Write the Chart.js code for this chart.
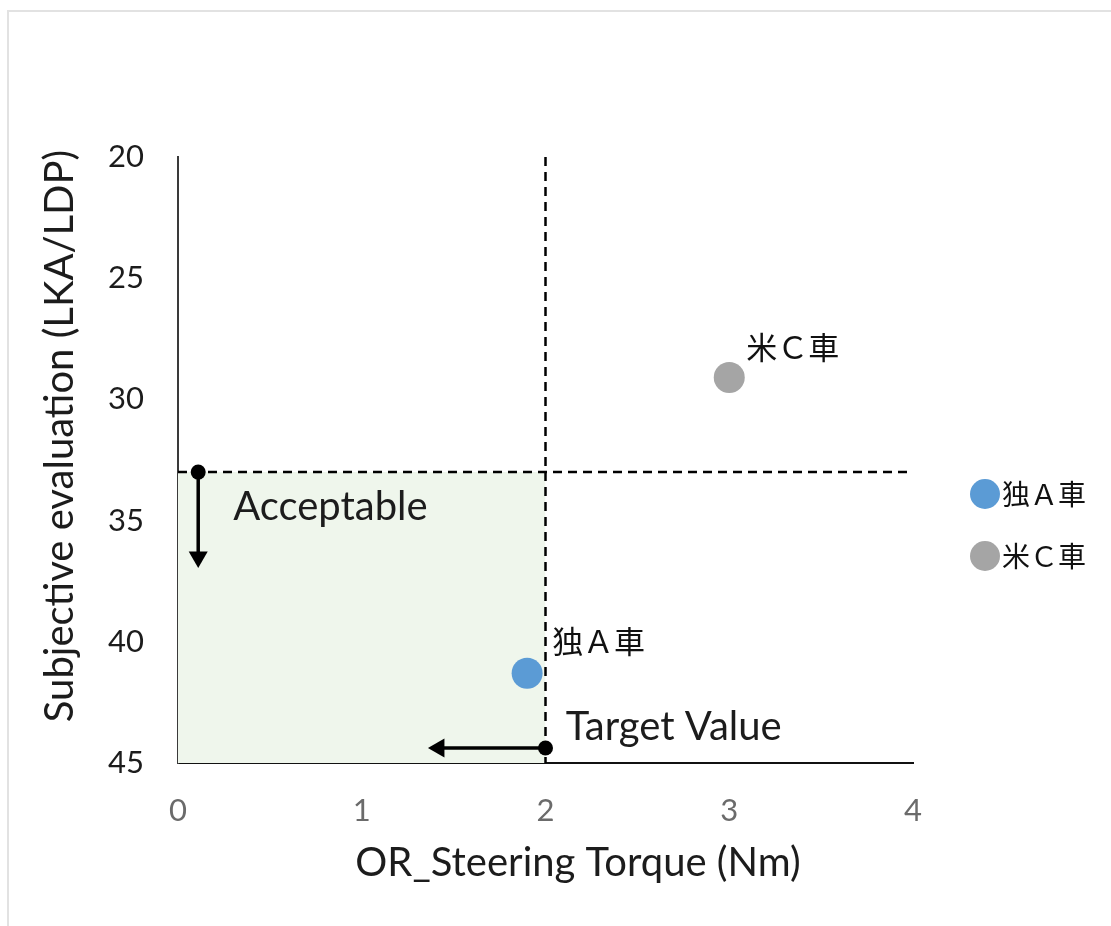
<!DOCTYPE html>
<html>
<head>
<meta charset="utf-8">
<title>OR Steering Torque vs Subjective evaluation</title>
<script src="https://cdn.jsdelivr.net/npm/chart.js@4.4.1/dist/chart.umd.min.js"></script>
<style>
  html, body { margin: 0; padding: 0; background: #fff; width: 1111px; height: 926px; overflow: hidden; }
  #frame { position: absolute; left: 7px; top: 10px; right: -4px; bottom: -4px;
           border-left: 2px solid #e2e2e2; border-top: 2px solid #e2e2e2; }
  #chart { position: absolute; left: 0; top: 0; }
</style>
</head>
<body>
<div id="frame"></div>
<canvas id="chart" width="1111" height="926"></canvas>
<script>
// Vehicles and their measured results
const vehicles = ['独Ａ車', '米Ｃ車'];
const steeringTorque = [1.9, 3.0];       // Nm
const subjectiveScore = [41.3, 29.1];

// Target thresholds
const targetTorque = 2;
const acceptableScore = 33;

// Axis ranges and tick steps
const xTicks = [0, 1, 2, 3, 4];
const yTicks = [20, 25, 30, 35, 40, 45];

// Axis titles
const xTitle = 'OR_Steering Torque (Nm)';
const yTitle = 'Subjective evaluation (LKA/LDP)';

// Arrows: start (dot) and end (arrowhead)
const acceptArrowX = [0.11, 0.11];
const acceptArrowY = [33, 36.5];
const targetArrowX = [2.0, 1.42];
const targetArrowY = [44.38, 44.38];

// Free text notes
const notes = ['Acceptable', 'Target Value'];
const noteX = [0.30, 2.11];
const noteY = [34.97, 44.05];

const pts = (xs, ys) => xs.map((x, i) => ({ x, y: ys[i] }));

const xMin = xTicks[0], xMax = xTicks[xTicks.length - 1];
const yMin = yTicks[0], yMax = yTicks[yTicks.length - 1];

const COLORS = ['#5B9BD5', '#A5A5A5'];
const CJK = '"Noto Sans CJK JP", "Noto Sans CJK SC", sans-serif';
const LATIN = 'Lato, "Open Sans", sans-serif';
const TEXT = '#1c1c1c';

// Per-vehicle label offsets (px) from the marker centre
const LABEL_OFFSETS = [{ dx: 25, dy: -32 }, { dx: 17, dy: -30 }];

const vehicleSets = vehicles.map((name, i) => ({
  type: 'scatter',
  label: name,
  data: [{ x: steeringTorque[i], y: subjectiveScore[i] }],
  backgroundColor: COLORS[i],
  borderColor: COLORS[i],
  pointRadius: 15.5,
  pointHoverRadius: 15.5,
  borderWidth: 0,
  order: 1,
  inLegend: true,
  labelOffset: LABEL_OFFSETS[i]
}));

const arrowSet = (xs, ys, rotation) => ({
  type: 'line',
  label: '',
  data: pts(xs, ys),
  borderColor: '#000',
  backgroundColor: '#000',
  borderWidth: 3.5,
  pointStyle: ['circle', 'triangle'],
  pointRadius: [7.5, 11],
  pointRotation: [0, rotation],
  pointBorderWidth: 0,
  pointBackgroundColor: '#000',
  fill: false,
  order: 3
});

const datasets = [
  // acceptable zone: torque below target, score at or beyond the threshold
  {
    type: 'line',
    label: '',
    data: pts([xMin, targetTorque], [acceptableScore, acceptableScore]),
    borderWidth: 0,
    borderColor: 'rgba(0,0,0,0)',
    pointRadius: 0,
    backgroundColor: '#EFF6EC',
    fill: { value: yMax },
    order: 10
  },
  // threshold lines
  {
    type: 'line',
    label: '',
    data: pts([targetTorque, targetTorque], [yMin, yMax]),
    borderColor: '#000',
    borderWidth: 2.5,
    borderDash: [9, 6],
    pointRadius: 0,
    fill: false,
    order: 5
  },
  {
    type: 'line',
    label: '',
    data: pts([xMin, xMax], [acceptableScore, acceptableScore]),
    borderColor: '#000',
    borderWidth: 2.5,
    borderDash: [9, 6],
    pointRadius: 0,
    fill: false,
    order: 5
  },
  arrowSet(acceptArrowX, acceptArrowY, 180),
  arrowSet(targetArrowX, targetArrowY, 270),
  ...vehicleSets
];

// Labels next to the vehicle markers and the two free notes
const textPlugin = {
  id: 'textNotes',
  afterDatasetsDraw(chart) {
    const { ctx, scales: { x, y } } = chart;
    ctx.save();
    ctx.fillStyle = '#111';
    ctx.textAlign = 'left';
    ctx.textBaseline = 'middle';
    ctx.font = '31px ' + CJK;
    chart.data.datasets.forEach((ds, i) => {
      if (!ds.inLegend) return;
      const el = chart.getDatasetMeta(i).data[0];
      ctx.fillText(ds.label, el.x + ds.labelOffset.dx, el.y + ds.labelOffset.dy);
    });
    ctx.font = '40px ' + LATIN;
    ctx.fillStyle = TEXT;
    ctx.textBaseline = 'alphabetic';
    notes.forEach((t, i) => {
      ctx.fillText(t, x.getPixelForValue(noteX[i]), y.getPixelForValue(noteY[i]));
    });
    ctx.restore();
  }
};

// Axis titles, placed relative to the plot area
const axisTitles = {
  id: 'axisTitles',
  afterDraw(chart) {
    const { ctx, chartArea } = chart;
    ctx.save();
    ctx.font = '40px ' + LATIN;
    ctx.fillStyle = TEXT;
    ctx.textAlign = 'center';
    ctx.textBaseline = 'middle';
    ctx.fillText(xTitle, chartArea.left + 400, chartArea.bottom + 100);
    ctx.translate(chartArea.left - 118, chartArea.top + 279);
    ctx.rotate(-Math.PI / 2);
    ctx.fillText(yTitle, 0, 0);
    ctx.restore();
  }
};

// Legend to the right of the plot area
const sideLegend = {
  id: 'sideLegend',
  afterDraw(chart) {
    const { ctx, chartArea } = chart;
    const cx = chartArea.right + 72;
    let cy = chartArea.top + 337;
    ctx.save();
    ctx.font = '28px ' + CJK;
    ctx.textBaseline = 'middle';
    ctx.textAlign = 'left';
    chart.data.datasets.forEach(ds => {
      if (!ds.inLegend) return;
      ctx.fillStyle = ds.backgroundColor;
      ctx.beginPath();
      ctx.arc(cx, cy, 15, 0, Math.PI * 2);
      ctx.fill();
      ctx.fillStyle = '#111';
      ctx.fillText(ds.label, cx + 17, cy);
      cy += 62;
    });
    ctx.restore();
  }
};

new Chart(document.getElementById('chart'), {
  type: 'scatter',
  data: { datasets },
  options: {
    responsive: false,
    animation: false,
    events: [],
    layout: { padding: { top: 157, right: 198, bottom: 0, left: 0 } },
    plugins: {
      legend: { display: false },
      tooltip: { enabled: false }
    },
    scales: {
      x: {
        type: 'linear',
        min: xMin,
        max: xMax,
        ticks: {
          stepSize: xTicks[1] - xTicks[0],
          color: '#6b6b6b',
          font: { family: LATIN, size: 31 },
          padding: 29
        },
        grid: { display: false, drawTicks: false },
        border: { display: true, color: '#111', width: 2 },
        title: { display: false },
        afterFit(scale) { scale.height = 163; }
      },
      y: {
        type: 'linear',
        reverse: true,
        min: yMin,
        max: yMax,
        ticks: {
          stepSize: yTicks[1] - yTicks[0],
          color: TEXT,
          font: { family: LATIN, size: 31 },
          padding: 34
        },
        grid: { display: false, drawTicks: false },
        border: { display: true, color: '#3a3a3a', width: 2 },
        title: { display: false },
        afterFit(scale) { scale.width = 178; }
      }
    }
  },
  plugins: [textPlugin, axisTitles, sideLegend]
});
</script>
</body>
</html>
